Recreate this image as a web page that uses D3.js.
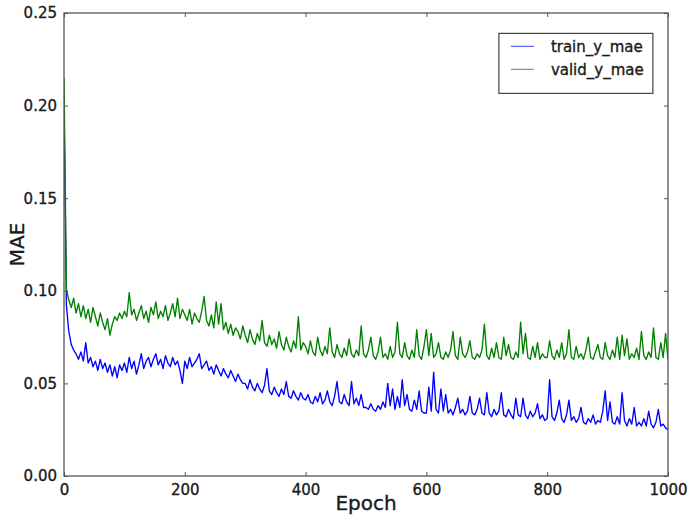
<!DOCTYPE html>
<html>
<head>
<meta charset="utf-8">
<script src="https://cdn.jsdelivr.net/npm/d3@7"></script>
<style>
  html, body { margin: 0; padding: 0; background: #fff; }
  svg { display: block; }
  text { font-family: "DejaVu Sans", sans-serif; fill: #1a1a1a; stroke: #1a1a1a; stroke-width: 0.35px; }
</style>
</head>
<body>
<svg id="chart" width="690" height="518"></svg>
<script>
// ---- data ----
const seriesNames = ["train_y_mae", "valid_y_mae"];
const epochStep = 4;
const xTicks = [0, 200, 400, 600, 800, 1000];
const yTicks = [0.00, 0.05, 0.10, 0.15, 0.20, 0.25];

// train_y_mae, one value every 4 epochs (0..1000)
const trainMae = [
  0.200,0.092,0.078,0.071,0.068,0.066,0.063,0.067,0.062,0.072,0.061,0.064,0.059,0.062,0.057,0.063,0.058,0.061,0.056,0.060,0.054,0.059,0.053,0.060,0.057,
  0.061,0.056,0.064,0.058,0.062,0.055,0.060,0.066,0.058,0.062,0.064,0.059,0.063,0.066,0.060,0.063,0.058,0.065,0.061,0.059,0.064,0.060,0.062,0.057,0.050,
  0.062,0.058,0.064,0.059,0.061,0.063,0.066,0.058,0.060,0.062,0.057,0.059,0.055,0.060,0.057,0.054,0.058,0.055,0.053,0.057,0.054,0.051,0.055,0.052,0.050,
  0.050,0.047,0.052,0.048,0.046,0.050,0.047,0.045,0.049,0.058,0.046,0.044,0.048,0.045,0.043,0.047,0.044,0.051,0.043,0.042,0.046,0.043,0.041,0.045,0.042,
  0.041,0.044,0.040,0.039,0.043,0.040,0.045,0.039,0.041,0.046,0.040,0.038,0.043,0.051,0.040,0.039,0.044,0.040,0.038,0.051,0.039,0.042,0.038,0.044,0.037,
  0.037,0.036,0.039,0.036,0.035,0.038,0.036,0.040,0.037,0.050,0.038,0.047,0.036,0.043,0.037,0.052,0.038,0.044,0.036,0.035,0.041,0.036,0.046,0.035,0.034,
  0.034,0.048,0.035,0.056,0.036,0.034,0.047,0.035,0.044,0.034,0.036,0.033,0.037,0.042,0.034,0.036,0.033,0.035,0.043,0.034,0.033,0.036,0.042,0.034,0.033,
  0.045,0.034,0.032,0.036,0.033,0.035,0.045,0.033,0.032,0.036,0.033,0.031,0.042,0.033,0.032,0.042,0.033,0.031,0.035,0.032,0.034,0.039,0.031,0.033,0.030,
  0.031,0.052,0.032,0.030,0.034,0.041,0.031,0.029,0.033,0.041,0.030,0.032,0.029,0.031,0.037,0.029,0.028,0.031,0.029,0.033,0.028,0.030,0.029,0.035,0.046,
  0.030,0.040,0.029,0.028,0.032,0.028,0.045,0.030,0.027,0.031,0.028,0.037,0.027,0.029,0.027,0.031,0.027,0.035,0.028,0.026,0.029,0.036,0.027,0.028,0.026,0.025
];

// valid_y_mae, one value every 4 epochs (0..1000)
const validMae = [
  0.215,0.101,0.095,0.091,0.096,0.088,0.093,0.086,0.092,0.085,0.090,0.083,0.091,0.086,0.081,0.088,0.083,0.079,0.085,0.076,0.082,0.086,0.084,0.088,0.085,
  0.089,0.086,0.099,0.087,0.090,0.084,0.088,0.092,0.085,0.089,0.083,0.091,0.087,0.094,0.085,0.089,0.086,0.092,0.084,0.088,0.093,0.086,0.096,0.085,0.090,
  0.087,0.084,0.090,0.082,0.088,0.085,0.083,0.089,0.097,0.084,0.081,0.087,0.080,0.094,0.082,0.093,0.079,0.083,0.077,0.082,0.076,0.080,0.078,0.074,0.081,
  0.076,0.072,0.079,0.074,0.071,0.077,0.073,0.084,0.072,0.070,0.076,0.071,0.074,0.069,0.078,0.071,0.068,0.075,0.070,0.067,0.073,0.069,0.086,0.068,0.072,
  0.070,0.066,0.073,0.067,0.065,0.075,0.068,0.065,0.070,0.066,0.080,0.067,0.064,0.071,0.066,0.064,0.069,0.065,0.074,0.066,0.064,0.068,0.065,0.081,0.066,
  0.064,0.068,0.075,0.065,0.063,0.067,0.075,0.064,0.066,0.063,0.070,0.064,0.067,0.083,0.066,0.064,0.072,0.065,0.063,0.068,0.064,0.079,0.065,0.063,0.070,
  0.079,0.065,0.077,0.064,0.066,0.072,0.064,0.063,0.067,0.064,0.068,0.078,0.065,0.063,0.075,0.066,0.064,0.067,0.073,0.064,0.063,0.066,0.064,0.068,0.082,
  0.065,0.063,0.069,0.064,0.072,0.064,0.063,0.075,0.065,0.071,0.064,0.063,0.067,0.064,0.083,0.066,0.077,0.064,0.063,0.070,0.064,0.072,0.063,0.066,0.064,
  0.064,0.073,0.065,0.063,0.068,0.064,0.072,0.063,0.066,0.079,0.064,0.063,0.070,0.064,0.066,0.063,0.068,0.075,0.064,0.063,0.067,0.071,0.064,0.063,0.072,
  0.065,0.063,0.068,0.064,0.075,0.063,0.076,0.065,0.074,0.063,0.066,0.064,0.069,0.063,0.078,0.065,0.063,0.067,0.064,0.080,0.064,0.063,0.072,0.064,0.077,0.063
];

const seriesColors = ["#0000ff", "#008000"];

// ---- layout ----
const W = 690, H = 518;
const margin = { left: 64, top: 13, right: 22, bottom: 42 };
const iw = W - margin.left - margin.right;
const ih = H - margin.top - margin.bottom;

const svg = d3.select("#chart");
const g = svg.append("g").attr("transform", `translate(${margin.left},${margin.top})`);

const x = d3.scaleLinear().domain([0, 1000]).range([0, iw]);
const y = d3.scaleLinear().domain([0, 0.25]).range([ih, 0]);

g.append("clipPath").attr("id", "clip").append("rect").attr("width", iw).attr("height", ih);

const series = [trainMae, validMae];
const line = d3.line()
  .x((d, i) => x(i * epochStep))
  .y(d => y(d));

series.forEach((vals, k) => {
  g.append("path")
    .datum(vals)
    .attr("clip-path", "url(#clip)")
    .attr("fill", "none")
    .attr("stroke", seriesColors[k])
    .attr("stroke-width", 1.35)
    .attr("stroke-linejoin", "round")
    .attr("d", line);
});

// axes with inward ticks
const tickLen = 4;
const fmtY = d3.format(".2f");
const axB = d3.axisBottom(x).tickValues(xTicks).tickSizeInner(-tickLen).tickSizeOuter(0).tickPadding(8).tickFormat(d3.format("d"));
const axT = d3.axisTop(x).tickValues(xTicks).tickSizeInner(-tickLen).tickSizeOuter(0).tickFormat("");
const axL = d3.axisLeft(y).tickValues(yTicks).tickSizeInner(-tickLen).tickSizeOuter(0).tickPadding(7).tickFormat(fmtY);
const axR = d3.axisRight(y).tickValues(yTicks).tickSizeInner(-tickLen).tickSizeOuter(0).tickFormat("");

function styleAxis(sel) {
  sel.select(".domain").remove();
  sel.selectAll(".tick line").attr("stroke", "#555").attr("stroke-width", 1);
  sel.selectAll(".tick text").style("font-family", "DejaVu Sans, sans-serif").style("font-size", "15px").attr("fill", "#1a1a1a");
}

g.append("g").attr("transform", `translate(0,${ih})`).call(axB).call(styleAxis);
g.append("g").call(axT).call(styleAxis);
g.append("g").call(axL).call(styleAxis);
g.append("g").attr("transform", `translate(${iw},0)`).call(axR).call(styleAxis);

// frame
g.append("rect").attr("width", iw).attr("height", ih)
  .attr("fill", "none").attr("stroke", "#555").attr("stroke-width", 1.3);

// axis labels
svg.append("text")
  .attr("x", margin.left + iw / 2).attr("y", 510)
  .attr("text-anchor", "middle")
  .style("font-size", "20px")
  .text("Epoch");

svg.append("text")
  .attr("transform", `translate(24,${margin.top + ih / 2}) rotate(-90)`)
  .attr("text-anchor", "middle")
  .style("font-size", "20px")
  .text("MAE");

// legend
const lg = g.append("g").attr("transform", `translate(${x(720)},${y(0.239)})`);
const lgW = 154, lgH = 60;
lg.append("rect").attr("width", lgW).attr("height", lgH)
  .attr("fill", "#fff").attr("stroke", "#444").attr("stroke-width", 1.2);
seriesNames.forEach((name, k) => {
  const yy = 13 + k * 23;
  lg.append("line").attr("x1", 12).attr("x2", 35).attr("y1", yy).attr("y2", yy)
    .attr("stroke", seriesColors[k]).attr("stroke-opacity", 0.6).attr("stroke-width", 1.3);
  lg.append("text").attr("x", 52).attr("y", yy).attr("dy", "0.35em")
    .style("font-size", "15px").text(name);
});
</script>
</body>
</html>
